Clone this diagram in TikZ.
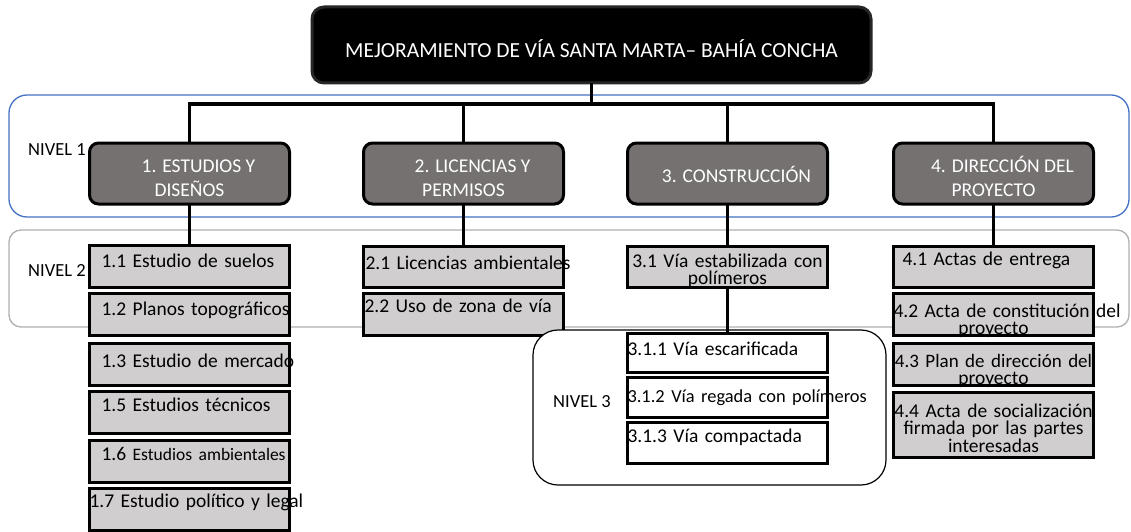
\documentclass[tikz,border=0pt]{standalone}
\usepackage{fontspec}
\setmainfont{Carlito}
\usetikzlibrary{positioning}

\definecolor{grisfase}{RGB}{118,113,113}
\definecolor{grishoja}{RGB}{208,206,206}
\definecolor{azulnivel}{RGB}{68,114,196}
\definecolor{grisnivel}{RGB}{175,175,175}

\tikzstyle{proyecto} = [rectangle, rounded corners=12pt, draw=black!85, fill=black, line width=3pt, text=white, minimum width=559pt, minimum height=76pt, inner ysep=0pt, outer sep=0pt, text height=24.6pt, text depth=0pt, font=\fontsize{21.5}{26}\selectfont]
\tikzstyle{fase} = [rectangle, rounded corners=9pt, draw=black, fill=grisfase, line width=3pt, text=white, minimum width=200pt, inner ysep=0pt, outer sep=0pt, text height=53pt, text depth=8pt, align=center, font=\fontsize{19.5}{24}\selectfont]
\tikzstyle{hoja} = [rectangle, draw=black, fill=grishoja, line width=3pt, text width=200pt, inner sep=0pt, outer sep=0pt, text height=22pt, text depth=20pt, align=left, font={\fontsize{19.5}{17.5}\selectfont\lineskiplimit=-20pt}]
\tikzstyle{tarea} = [hoja, fill=white]
\tikzstyle{nivel} = [anchor=base west, inner sep=0pt, font=\fontsize{18.5}{22}\selectfont]
\tikzstyle{rama} = [line width=3.6pt]
\tikzstyle{franja} = [line width=1.3pt]

\begin{document}
\begin{tikzpicture}[x=1pt, y=-1pt,
	level/.style={sibling distance=268pt, level distance=128.5pt},
	edge from parent/.style={draw, rama},
	edge from parent path={(\tikzparentnode.south) -- ++(0,-21pt) -| (\tikzchildnode.north)}]
\useasboundingbox (0,0) rectangle (1131,532);
% franjas de los niveles
\draw[franja, azulnivel, rounded corners=18pt] (9,95) rectangle (1129,217);
\draw[franja, grisnivel, rounded corners=12pt] (9,230) rectangle (1129,327);
\node[nivel] (niv1) at (28,155) {NIVEL 1};
\node[nivel] (niv2) at (28,276) {NIVEL 2};

\node [proyecto] (p) at (591.5,45) {MEJORAMIENTO DE VÍA SANTA MARTA– BAHÍA CONCHA}
child {node [fase] (e1) {\hspace*{18pt}1. ESTUDIOS Y\\DISEÑOS}}
child {node [fase, xshift=6pt] (e2) {\hspace*{18pt}2. LICENCIAS Y\\PERMISOS}}
child {node [fase, xshift=2pt, text height=39pt, text depth=22pt] (e3) {\hspace*{18pt}3. CONSTRUCCIÓN}}
child {node [fase] (e4) {\hspace*{18pt}4. DIRECCIÓN DEL\\PROYECTO}}
;

% nivel 2
\node[hoja, below=41pt of e1] (h11) {\mbox{\hspace{12pt}1.1 Estudio de suelos}};
\node[hoja, below=6pt of h11] (h12) {\mbox{\hspace{12pt}1.2 Planos topográficos}};
\node[hoja, below=8pt of h12, text height=24pt, text depth=18pt] (h13) {\mbox{\hspace{12pt}1.3 Estudio de mercado}};
\node[hoja, below=6pt of h13, text height=20pt, text depth=22pt] (h15) {\mbox{\hspace{12pt}1.5 Estudios técnicos}};
\node[hoja, below=7pt of h15, text height=20pt, text depth=22pt] (h16) {\mbox{\hspace{12pt}1.6 {\fontsize{17.5}{17.5}\selectfont Estudios ambientales}}};
\node[hoja, below=6pt of h16, text height=19pt, text depth=23pt] (h17) {\mbox{1.7 Estudio político y legal}};

\node[hoja, below=42pt of e2, text height=23pt, text depth=18pt] (h21) {\mbox{\hspace{2pt}2.1 Licencias ambientales}};
\node[hoja, below=6pt of h21, text height=19pt, text depth=23pt] (h22) {\mbox{\hspace{1pt}2.2 Uso de zona de vía}};

\node[hoja, below=42pt of e3, align=center, text height=21pt, text depth=20pt] (h31) {\mbox{3.1 Vía estabilizada con}\\polímeros};

\node[hoja, below=42pt of e4, text height=19pt, text depth=22pt] (h41) {\mbox{\hspace{9pt}4.1 Actas de entrega}};
\node[hoja, below=6pt of h41, align=center, text height=24pt, text depth=18pt] (h42) {\mbox{4.2 Acta de constitución del}\\proyecto};
\node[hoja, below=8pt of h42, align=center, text height=24pt, text depth=18pt] (h43) {\mbox{\fontsize{19}{17.5}\selectfont 4.3 Plan de dirección del}\\proyecto};
\node[hoja, below=7pt of h43, align=center, text height=25pt, text depth=40pt] (h44) {\mbox{4.4 Acta de socialización}\\firmada por las partes\\interesadas};

% nivel 3
\draw[franja, black, line width=1.2pt, fill=white, rounded corners=25pt] (533,330) rectangle (886,485);
\node[nivel] (niv3) at (553,407) {NIVEL 3};
\node[tarea, below=46pt of h31, text height=22pt, text depth=17pt] (h311) {\mbox{3.1.1 Vía escarificada}};
\node[tarea, below=5pt of h311, text height=25pt, text depth=15pt] (h312) {\mbox{\fontsize{18.4}{18}\selectfont 3.1.2 Vía regada con polímeros}};
\node[tarea, below=5pt of h312, text height=20pt, text depth=21pt] (h313) {\mbox{3.1.3 Vía compactada}};

\foreach \a/\b in {e1/h11, e2/h21, e3/h31, e4/h41, h31/h311}
	\draw[rama] (\a.south) -- (\a.south |- \b.north);
\end{tikzpicture}
\end{document}
